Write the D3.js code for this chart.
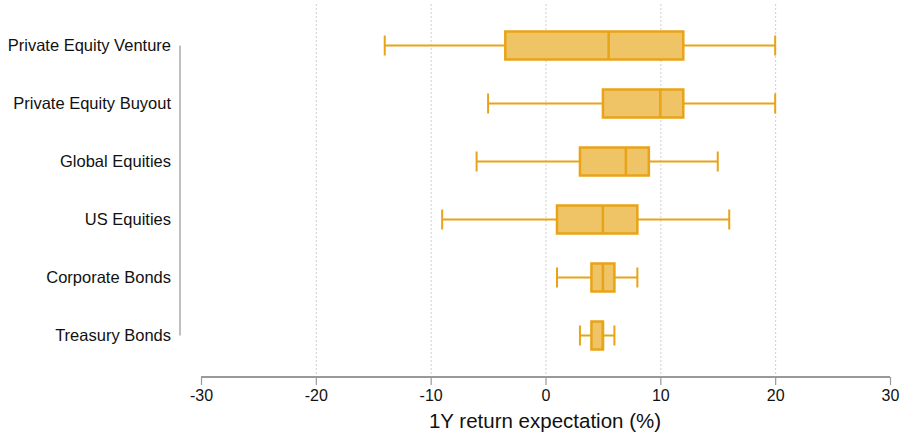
<!DOCTYPE html>
<html><head><meta charset="utf-8">
<script src="https://cdn.jsdelivr.net/npm/d3@7"></script>
<style>body{margin:0;background:#fff;}svg{display:block;font-family:"Liberation Sans",Arial,Helvetica,sans-serif;}</style>
</head><body>
<svg id="c" width="902" height="436"></svg>
<script>
const categories = ["Private Equity Venture","Private Equity Buyout","Global Equities","US Equities","Corporate Bonds","Treasury Bonds"];
const whiskerLow = [-14, -5, -6, -9, 1, 3];
const q1 =         [-3.5, 5, 3, 1, 4, 4];
const medians =    [5.5, 10, 7, 5, 5, 5];
const q3 =         [12, 12, 9, 8, 6, 5];
const whiskerHigh =[20, 20, 15, 16, 8, 6];
const xTicks = [-30,-20,-10,0,10,20,30];
const gridTicks = [-20,-10,0,10,20];
const xTitle = "1Y return expectation (%)";

const svg = d3.select("#c");
const x = d3.scaleLinear().domain([-30,30]).range([201,890]);
const y = d3.scaleBand().domain(categories).range([16.5,364.5]);
const boxH = 28, capH = 20;
const fill = "#EFC466", stroke = "#E9A317";

// grid
svg.append("g").selectAll("line").data(gridTicks).join("line")
  .attr("x1",d=>x(d)+0.5).attr("x2",d=>x(d)+0.5)
  .attr("y1",4).attr("y2",376)
  .attr("stroke","#cfcfcf").attr("stroke-width",1).attr("stroke-dasharray","2,2");

// x axis
const xa = svg.append("g").attr("transform","translate(0,377)")
  .call(d3.axisBottom(x).tickValues(xTicks).tickSize(8).tickPadding(5).tickFormat(d3.format("d")));
xa.select(".domain").attr("stroke","#777").attr("stroke-width",1.5).attr("d",`M${x(-30)},0H${x(30)}`);
xa.selectAll(".tick line").attr("stroke","#999").attr("stroke-width",1.2);
xa.selectAll(".tick text").attr("font-size","16px").attr("fill","#111").attr("font-family","Liberation Sans, Arial, sans-serif")
  .text(d=> d<0 ? "-"+Math.abs(d) : d);

svg.append("text").attr("x",545).attr("y",428).attr("text-anchor","middle")
  .attr("font-size","20.5px").attr("fill","#111").text(xTitle);

// y axis
const yc = c => y(c)+y.bandwidth()/2;
svg.append("line").attr("x1",180).attr("x2",180)
  .attr("y1",yc(categories[0])).attr("y2",yc(categories[categories.length-1]))
  .attr("stroke","#aaa").attr("stroke-width",1.5);
svg.append("g").selectAll("text").data(categories).join("text")
  .attr("x",171).attr("y",d=>yc(d)).attr("dy","0.36em").attr("text-anchor","end")
  .attr("font-size","16.5px").attr("fill","#111").text(d=>d);

// boxes
const data = categories.map((c,i)=>({c, lo:whiskerLow[i], q1:q1[i], med:medians[i], q3:q3[i], hi:whiskerHigh[i]}));
const g = svg.append("g").selectAll("g").data(data).join("g");
g.append("line").attr("x1",d=>x(d.lo)).attr("x2",d=>x(d.q1)).attr("y1",d=>yc(d.c)).attr("y2",d=>yc(d.c))
  .attr("stroke",stroke).attr("stroke-width",2);
g.append("line").attr("x1",d=>x(d.q3)).attr("x2",d=>x(d.hi)).attr("y1",d=>yc(d.c)).attr("y2",d=>yc(d.c))
  .attr("stroke",stroke).attr("stroke-width",2);
g.append("line").attr("x1",d=>x(d.lo)).attr("x2",d=>x(d.lo)).attr("y1",d=>yc(d.c)-capH/2).attr("y2",d=>yc(d.c)+capH/2)
  .attr("stroke",stroke).attr("stroke-width",2);
g.append("line").attr("x1",d=>x(d.hi)).attr("x2",d=>x(d.hi)).attr("y1",d=>yc(d.c)-capH/2).attr("y2",d=>yc(d.c)+capH/2)
  .attr("stroke",stroke).attr("stroke-width",2);
g.append("rect").attr("x",d=>x(d.q1)).attr("width",d=>x(d.q3)-x(d.q1))
  .attr("y",d=>yc(d.c)-boxH/2).attr("height",boxH)
  .attr("fill",fill).attr("stroke",stroke).attr("stroke-width",2.5);
g.append("line").attr("x1",d=>x(d.med)).attr("x2",d=>x(d.med)).attr("y1",d=>yc(d.c)-boxH/2).attr("y2",d=>yc(d.c)+boxH/2)
  .attr("stroke",stroke).attr("stroke-width",2.5);
</script>
</body></html>
